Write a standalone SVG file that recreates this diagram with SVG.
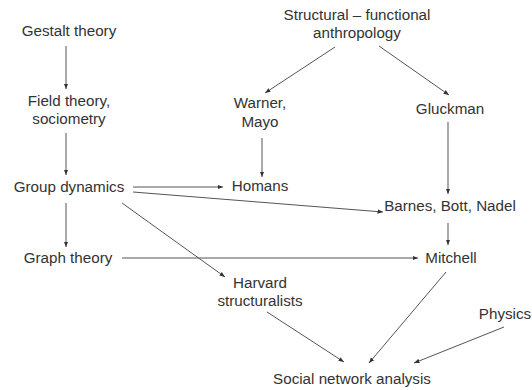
<svg xmlns="http://www.w3.org/2000/svg" width="532" height="390" viewBox="0 0 532 390">
<defs>
<marker id="ah" viewBox="0 0 10 10" refX="10" refY="5" markerWidth="5.5" markerHeight="5.5" markerUnits="userSpaceOnUse" orient="auto">
<path d="M0,1 L10,5 L0,9 Z" fill="#333"/>
</marker>
<style>
text{font-family:"Liberation Sans",Arial,sans-serif;font-size:15.2px;fill:#333;text-anchor:middle}
.c line{stroke:#555;stroke-width:1;fill:none;marker-end:url(#ah)}
</style>
</defs>
<rect width="532" height="390" fill="#fff"/>
<g class="c" id="connectors">
<line x1="66" y1="46" x2="66" y2="89"/>
<line x1="66" y1="133" x2="66" y2="175"/>
<line x1="66" y1="203" x2="66" y2="247"/>
<line x1="133" y1="187" x2="223" y2="187"/>
<line x1="133" y1="192" x2="383" y2="212"/>
<line x1="122" y1="203" x2="225" y2="277"/>
<line x1="122" y1="258" x2="418" y2="258"/>
<line x1="267" y1="312" x2="344" y2="362"/>
<line x1="446" y1="272" x2="369" y2="363"/>
<line x1="504" y1="327" x2="414" y2="363"/>
<line x1="448" y1="223" x2="448" y2="245"/>
<line x1="335" y1="47" x2="265" y2="93"/>
<line x1="379" y1="46" x2="449" y2="95"/>
<line x1="448" y1="122" x2="448" y2="194"/>
<line x1="262" y1="138" x2="262" y2="177"/>
</g>
<g id="gestalt"><text x="69" y="36">Gestalt theory</text></g>
<g id="field"><text x="69" y="106">Field theory,</text><text x="69" y="124">sociometry</text></g>
<g id="group"><text x="69" y="192">Group dynamics</text></g>
<g id="graph"><text x="68" y="263">Graph theory</text></g>
<g id="harvard"><text x="260" y="288">Harvard</text><text x="260" y="306">structuralists</text></g>
<g id="sna"><text x="352" y="384">Social network analysis</text></g>
<g id="physics"><text x="505" y="319">Physics</text></g>
<g id="mitchell"><text x="451" y="263">Mitchell</text></g>
<g id="barnes"><text x="450" y="211">Barnes, Bott, Nadel</text></g>
<g id="gluckman"><text x="450" y="114">Gluckman</text></g>
<g id="structural"><text x="357" y="20">Structural – functional</text><text x="357" y="38">anthropology</text></g>
<g id="warner"><text x="260" y="108">Warner,</text><text x="260" y="127">Mayo</text></g>
<g id="homans"><text x="260" y="191">Homans</text></g>
</svg>
